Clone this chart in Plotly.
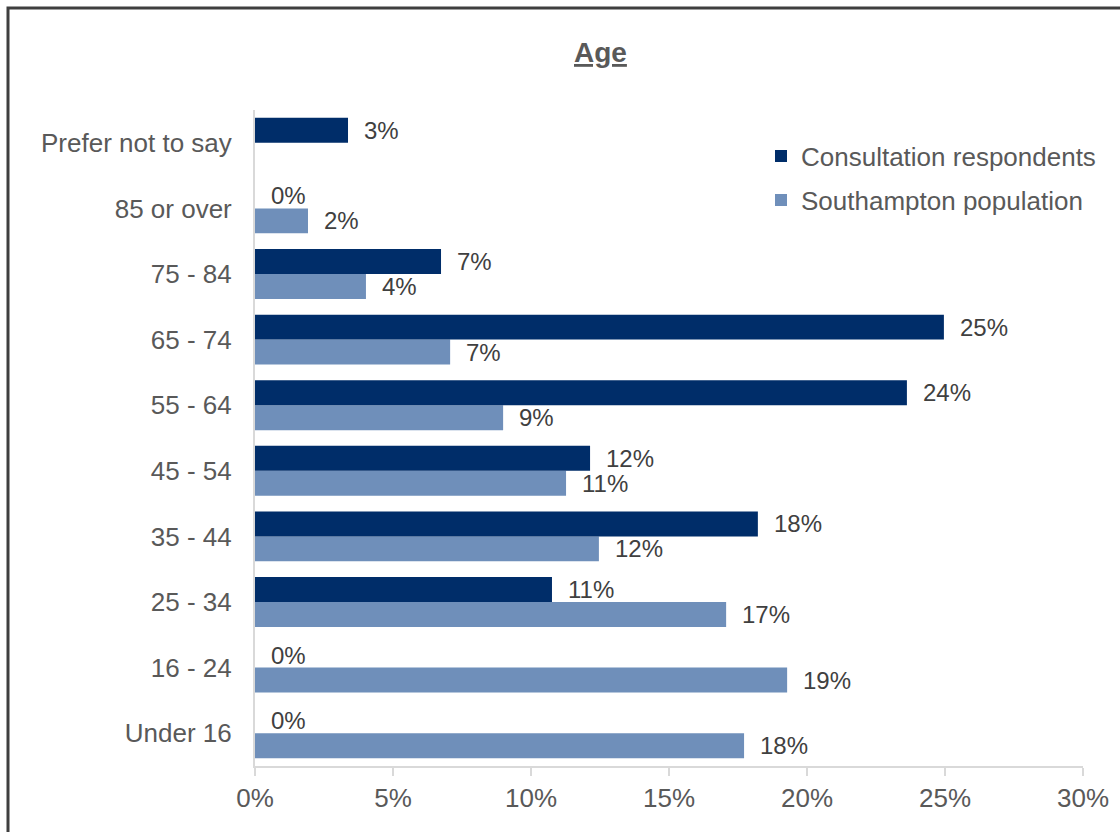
import plotly.graph_objects as go

# Age bands, listed bottom to top
age_bands = ["Under 16", "16 - 24", "25 - 34", "35 - 44", "45 - 54",
             "55 - 64", "65 - 74", "75 - 84", "85 or over", "Prefer not to say"]

# Share of each group (%)
respondents = [0.0, 0.0, 10.76, 18.22, 12.14, 23.62, 24.96, 6.74, 0.0, 3.37]
population = [17.72, 19.28, 17.07, 12.46, 11.27, 8.99, 7.07, 4.02, 1.92, None]

x_ticks = [0, 5, 10, 15, 20, 25, 30]

DARK = "#002D69"
LIGHT = "#6F8FBA"
TEXT = "#595959"
LABEL = "#404040"
FONT = "Liberation Sans, Arial, sans-serif"

W, H = 1120, 832
ML, MR, MT, MB = 255, 37, 110, 66
PW, PH = W - ML - MR, H - MT - MB

fig = go.Figure()
fig.add_trace(go.Bar(
    y=age_bands, x=population, orientation="h", name="Southampton population",
    marker=dict(color=LIGHT, line=dict(width=0)), legend="legend2",
))
fig.add_trace(go.Bar(
    y=age_bands, x=respondents, orientation="h", name="Consultation respondents",
    marker=dict(color=DARK, line=dict(width=0)), legend="legend",
))

# Value labels just beyond the end of each bar
half_bar = PH / len(age_bands) * (1 - 0.24) / 4
anns = []
for series, shift in ((respondents, half_bar), (population, -half_bar)):
    for band, v in zip(age_bands, series):
        if v is None:
            continue
        anns.append(dict(
            x=v, y=band, xref="x", yref="y", text=f"{round(v)}%",
            showarrow=False, xanchor="left", yanchor="middle",
            xshift=14, yshift=shift,
            font=dict(family=FONT, size=24, color=LABEL),
        ))

# Chart title
anns.append(dict(
    x=(600 - ML) / PW, y=(H - MB - 52) / PH, xref="paper", yref="paper",
    text="<b><u>Age</u></b>", showarrow=False, xanchor="center", yanchor="middle",
    font=dict(family=FONT, size=28, color=TEXT),
))

legend_style = dict(
    xanchor="left", yanchor="middle",
    font=dict(family=FONT, size=26, color=TEXT), bgcolor="rgba(0,0,0,0)",
    itemwidth=30,
)

fig.update_layout(
    width=W, height=H,
    margin=dict(l=ML, r=MR, t=MT, b=MB),
    paper_bgcolor="white", plot_bgcolor="white",
    barmode="group", bargap=0.24, bargroupgap=0,
    font=dict(family=FONT, size=26, color=TEXT),
    showlegend=True,
    legend=dict(x=(761 - ML) / PW, y=(H - MB - 156) / PH, **legend_style),
    legend2=dict(x=(761 - ML) / PW, y=(H - MB - 200) / PH, **legend_style),
    annotations=anns,
    shapes=[dict(
        type="rect", xref="paper", yref="paper",
        x0=(8 - ML) / PW, x1=1.5, y0=-0.5, y1=(H - MB - 8) / PH,
        line=dict(color="#3F3F3F", width=3), fillcolor="rgba(0,0,0,0)",
        layer="below",
    )],
)

fig.update_xaxes(
    range=[0, 30], tickvals=x_ticks, ticktext=[f"{t}%" for t in x_ticks],
    showgrid=False, zeroline=False,
    showline=True, linecolor="#D9D9D9", linewidth=2,
    ticks="outside", ticklen=8, tickcolor="#D9D9D9", tickwidth=2,
    tickfont=dict(family=FONT, size=26, color=TEXT),
)
fig.update_yaxes(
    categoryorder="array", categoryarray=age_bands,
    showgrid=False, zeroline=False,
    showline=True, linecolor="#D9D9D9", linewidth=2,
    ticks="", ticklabelstandoff=16,
    tickfont=dict(family=FONT, size=26, color=TEXT),
)

fig.write_html("out.html")
